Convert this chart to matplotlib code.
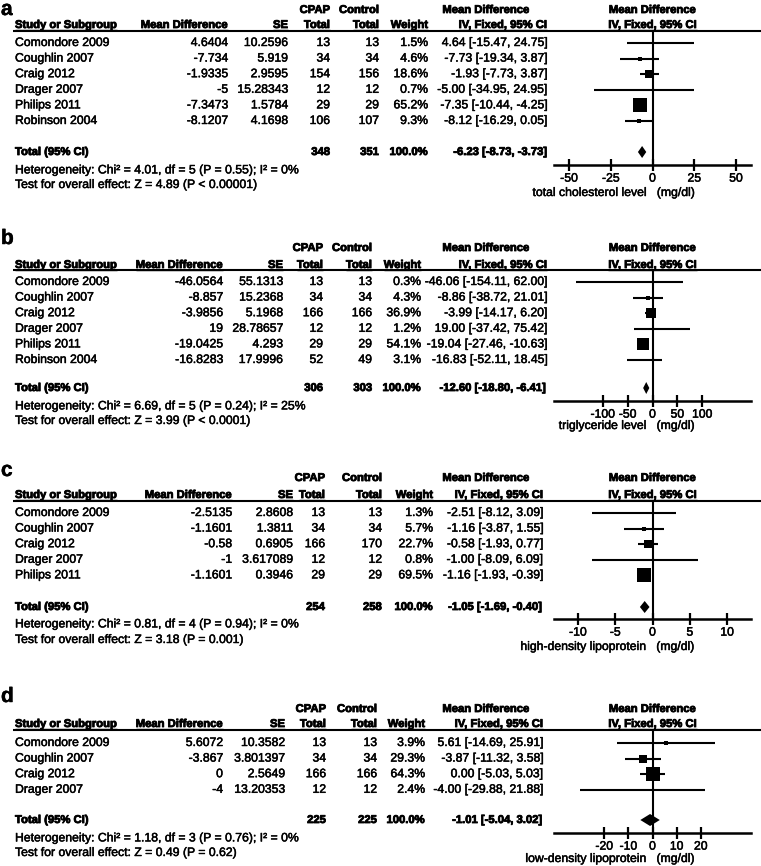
import matplotlib
matplotlib.use("Agg")
import matplotlib.pyplot as plt
import matplotlib.patheffects as pe

plt.rcParams['font.family'] = ['Liberation Sans', 'DejaVu Sans']

# ---------------- data ----------------
studies_a = ["Comondore 2009", "Coughlin 2007", "Craig 2012", "Drager 2007", "Philips 2011", "Robinson 2004"]
md_a = [4.6404, -7.734, -1.9335, -5, -7.3473, -8.1207]
se_a = [10.2596, 5.919, 2.9595, 15.28343, 1.5784, 4.1698]
cpap_a = [13, 34, 154, 12, 29, 106]
ctrl_a = [13, 34, 156, 12, 29, 107]
weight_a = [1.5, 4.6, 18.6, 0.7, 65.2, 9.3]
est_a = [4.64, -7.73, -1.93, -5.00, -7.35, -8.12]
lo_a = [-15.47, -19.34, -7.73, -34.95, -10.44, -16.29]
hi_a = [24.75, 3.87, 3.87, 24.95, -4.25, 0.05]
total_a = [348, 351, -6.23, -8.73, -3.73]
het_a = "Heterogeneity: Chi\u00b2 = 4.01, df = 5 (P = 0.55); I\u00b2 = 0%"
test_a = "Test for overall effect: Z = 4.89 (P < 0.00001)"
ticks_a = [-50, -25, 0, 25, 50]
xlabel_a = "total cholesterol level   (mg/dl)"

studies_b = ["Comondore 2009", "Coughlin 2007", "Craig 2012", "Drager 2007", "Philips 2011", "Robinson 2004"]
md_b = [-46.0564, -8.857, -3.9856, 19, -19.0425, -16.8283]
se_b = [55.1313, 15.2368, 5.1968, 28.78657, 4.293, 17.9996]
cpap_b = [13, 34, 166, 12, 29, 52]
ctrl_b = [13, 34, 166, 12, 29, 49]
weight_b = [0.3, 4.3, 36.9, 1.2, 54.1, 3.1]
est_b = [-46.06, -8.86, -3.99, 19.00, -19.04, -16.83]
lo_b = [-154.11, -38.72, -14.17, -37.42, -27.46, -52.11]
hi_b = [62.00, 21.01, 6.20, 75.42, -10.63, 18.45]
total_b = [306, 303, -12.60, -18.80, -6.41]
het_b = "Heterogeneity: Chi\u00b2 = 6.69, df = 5 (P = 0.24); I\u00b2 = 25%"
test_b = "Test for overall effect: Z = 3.99 (P < 0.0001)"
ticks_b = [-100, -50, 0, 50, 100]
xlabel_b = "triglyceride level   (mg/dl)"

studies_c = ["Comondore 2009", "Coughlin 2007", "Craig 2012", "Drager 2007", "Philips 2011"]
md_c = [-2.5135, -1.1601, -0.58, -1, -1.1601]
se_c = [2.8608, 1.3811, 0.6905, 3.617089, 0.3946]
cpap_c = [13, 34, 166, 12, 29]
ctrl_c = [13, 34, 170, 12, 29]
weight_c = [1.3, 5.7, 22.7, 0.8, 69.5]
est_c = [-2.51, -1.16, -0.58, -1.00, -1.16]
lo_c = [-8.12, -3.87, -1.93, -8.09, -1.93]
hi_c = [3.09, 1.55, 0.77, 6.09, -0.39]
total_c = [254, 258, -1.05, -1.69, -0.40]
het_c = "Heterogeneity: Chi\u00b2 = 0.81, df = 4 (P = 0.94); I\u00b2 = 0%"
test_c = "Test for overall effect: Z = 3.18 (P = 0.001)"
ticks_c = [-10, -5, 0, 5, 10]
xlabel_c = "high-density lipoprotein   (mg/dl)"

studies_d = ["Comondore 2009", "Coughlin 2007", "Craig 2012", "Drager 2007"]
md_d = [5.6072, -3.867, 0, -4]
se_d = [10.3582, 3.801397, 2.5649, 13.20353]
cpap_d = [13, 34, 166, 12]
ctrl_d = [13, 34, 166, 12]
weight_d = [3.9, 29.3, 64.3, 2.4]
est_d = [5.61, -3.87, 0.00, -4.00]
lo_d = [-14.69, -11.32, -5.03, -29.88]
hi_d = [25.91, 3.58, 5.03, 21.88]
total_d = [225, 225, -1.01, -5.04, 3.02]
het_d = "Heterogeneity: Chi\u00b2 = 1.18, df = 3 (P = 0.76); I\u00b2 = 0%"
test_d = "Test for overall effect: Z = 0.49 (P = 0.62)"
ticks_d = [-20, -10, 0, 10, 20]
xlabel_d = "low-density lipoprotein   (mg/dl)"

# ---------------- layout (pixel rows / columns) ----------------
W, H = 761, 866
FS = 8.8
HFS = 8.1
# the scanned original looks heavier than plain Arial, thicken a bit
heavy = [pe.withStroke(linewidth=0.35, foreground='black')]
heavier = [pe.withStroke(linewidth=0.6, foreground='black')]

panels = [
    dict(letter="a", studies=studies_a, md=md_a, se=se_a, cpap=cpap_a, ctrl=ctrl_a, w=weight_a,
         est=est_a, lo=lo_a, hi=hi_a, total=total_a, het=het_a, test=test_a, ticks=ticks_a,
         xlabel=xlabel_a, xmax=59,
         ys=dict(label=0, top=10, head=25, line=31, row0=43, total=152, axis=165, het=170, test=185, xl=193),
         cols=[228, 288, 330, 379, 428, 547]),
    dict(letter="b", studies=studies_b, md=md_b, se=se_b, cpap=cpap_b, ctrl=ctrl_b, w=weight_b,
         est=est_b, lo=lo_b, hi=hi_b, total=total_b, het=het_b, test=test_b, ticks=ticks_b,
         xlabel=xlabel_b, xmax=198,
         ys=dict(label=229, top=248, head=265, line=270, row0=282, total=388, axis=401, het=406, test=421, xl=426),
         cols=[223, 283, 323, 372, 421, 547]),
    dict(letter="c", studies=studies_c, md=md_c, se=se_c, cpap=cpap_c, ctrl=ctrl_c, w=weight_c,
         est=est_c, lo=lo_c, hi=hi_c, total=total_c, het=het_c, test=test_c, ticks=ticks_c,
         xlabel=xlabel_c, xmax=13.2,
         ys=dict(label=461, top=478, head=495, line=501, row0=513, total=607, axis=619, het=624, test=640, xl=647),
         cols=[232, 293, 325, 382, 433, 543]),
    dict(letter="d", studies=studies_d, md=md_d, se=se_d, cpap=cpap_d, ctrl=ctrl_d, w=weight_d,
         est=est_d, lo=lo_d, hi=hi_d, total=total_d, het=het_d, test=test_d, ticks=ticks_d,
         xlabel=xlabel_d, xmax=40.8,
         ys=dict(label=687, top=709, head=724, line=730, row0=743, total=820, axis=833, het=838, test=853, xl=859),
         cols=[223, 285, 326, 377, 425, 543]),
]

ROW_STEP = 15.6
PLOT_L, PLOT_R, ZERO_X = 554, 751, 652.5

fig = plt.figure(figsize=(W / 100, H / 100), dpi=100)
bg = fig.add_axes([0, 0, 1, 1])
bg.set_xlim(0, W)
bg.set_ylim(H, 0)
bg.axis('off')

underline = []


def ci_text(e, l, h):
    return f"{e:.2f} [{l:.2f}, {h:.2f}]"


def put(x, y, s, bold=False, ha='left'):
    if bold:
        return bg.text(x, y, s, fontsize=HFS, fontweight='bold', ha=ha, va='center', path_effects=heavier)
    return bg.text(x, y, s, fontsize=FS, ha=ha, va='center', path_effects=heavy)


for p in panels:
    ys = p["ys"]
    c_md, c_se, c_cp, c_ct, c_w, c_ci = p["cols"]

    bg.text(1, ys["label"], p["letter"], fontsize=15, fontweight='bold', va='top', ha='left',
            path_effects=heavy)

    # header
    put(c_cp, ys["top"], "CPAP", bold=True, ha='right')
    put(c_ct, ys["top"], "Control", bold=True, ha='right')
    put(486, ys["top"], "Mean Difference", bold=True, ha='center')
    put(ZERO_X, ys["top"], "Mean Difference", bold=True, ha='center')
    hdr = [(15, "Study or Subgroup", 'left'), (c_md, "Mean Difference", 'right'), (c_se, "SE", 'right'),
           (c_cp, "Total", 'right'), (c_ct, "Total", 'right'), (c_w, "Weight", 'right'),
           (c_ci, "IV, Fixed, 95% CI", 'right'), (ZERO_X, "IV, Fixed, 95% CI", 'center')]
    for x, s, ha in hdr:
        t = put(x, ys["head"], s, bold=True, ha=ha)
        underline.append((t, ys["head"] + 4.5))
    bg.hlines(ys["line"], 13, W, color='black', lw=1.5)

    # study rows
    rows = [ys["row0"] + ROW_STEP * i for i in range(len(p["studies"]))]
    for i, y in enumerate(rows):
        put(15, y, p["studies"][i])
        put(c_md, y, f"{p['md'][i]:.10g}", ha='right')
        put(c_se, y, f"{p['se'][i]:.10g}", ha='right')
        put(c_cp, y, str(p["cpap"][i]), ha='right')
        put(c_ct, y, str(p["ctrl"][i]), ha='right')
        put(c_w, y, f"{p['w'][i]:.1f}%", ha='right')
        put(c_ci, y, ci_text(p["est"][i], p["lo"][i], p["hi"][i]), ha='right')

    # total row
    n1, n2, te, tl, th = p["total"]
    ty = ys["total"]
    put(15, ty, "Total (95% CI)", bold=True)
    put(c_cp, ty, str(n1), bold=True, ha='right')
    put(c_ct, ty, str(n2), bold=True, ha='right')
    put(c_w, ty, "100.0%", bold=True, ha='right')
    put(c_ci, ty, ci_text(te, tl, th), bold=True, ha='right')
    put(15, ys["het"], p["het"])
    put(15, ys["test"], p["test"])

    # forest plot
    ax = fig.add_axes([PLOT_L / W, (H - ys["axis"]) / H, (PLOT_R - PLOT_L) / W, (ys["axis"] - ys["line"]) / H])
    ax.patch.set_alpha(0)
    ax.set_xlim(-p["xmax"], p["xmax"])
    ax.set_ylim(ys["axis"], ys["line"])
    for sp in ("top", "left", "right"):
        ax.spines[sp].set_visible(False)
    ax.spines["bottom"].set_linewidth(1.8)
    ax.set_yticks([])
    ax.set_xticks(p["ticks"])
    ax.set_xticklabels([str(t) for t in p["ticks"]])
    ax.tick_params(axis='x', direction='inout', length=8, width=1.6, labelsize=FS, pad=1.5)
    for lab in ax.get_xticklabels():
        lab.set_path_effects(heavy)
    ax.axvline(0, color='black', lw=1.5)
    for i, y in enumerate(rows):
        ax.hlines(y, p["lo"][i], p["hi"][i], color='black', lw=1.5)
        ms = 9.5 * (p["w"][i] / 66.0) ** 0.5
        ax.plot(p["est"][i], y, marker='s', ms=max(ms, 1.5), color='black', mec='black', mew=0)
    ax.fill([tl, te, th, te], [ty, ty - 6, ty, ty + 6], color='black', lw=0)
    put(696, ys["xl"], p["xlabel"], ha='right')

# underline headers
fig.canvas.draw()
inv = bg.transData.inverted()
for t, uy in underline:
    bb = t.get_window_extent()
    x0, _ = inv.transform((bb.x0, bb.y0))
    x1, _ = inv.transform((bb.x1, bb.y0))
    bg.hlines(uy, x0, x1, color='black', lw=1.0)

fig.savefig("out.png", dpi=100)
